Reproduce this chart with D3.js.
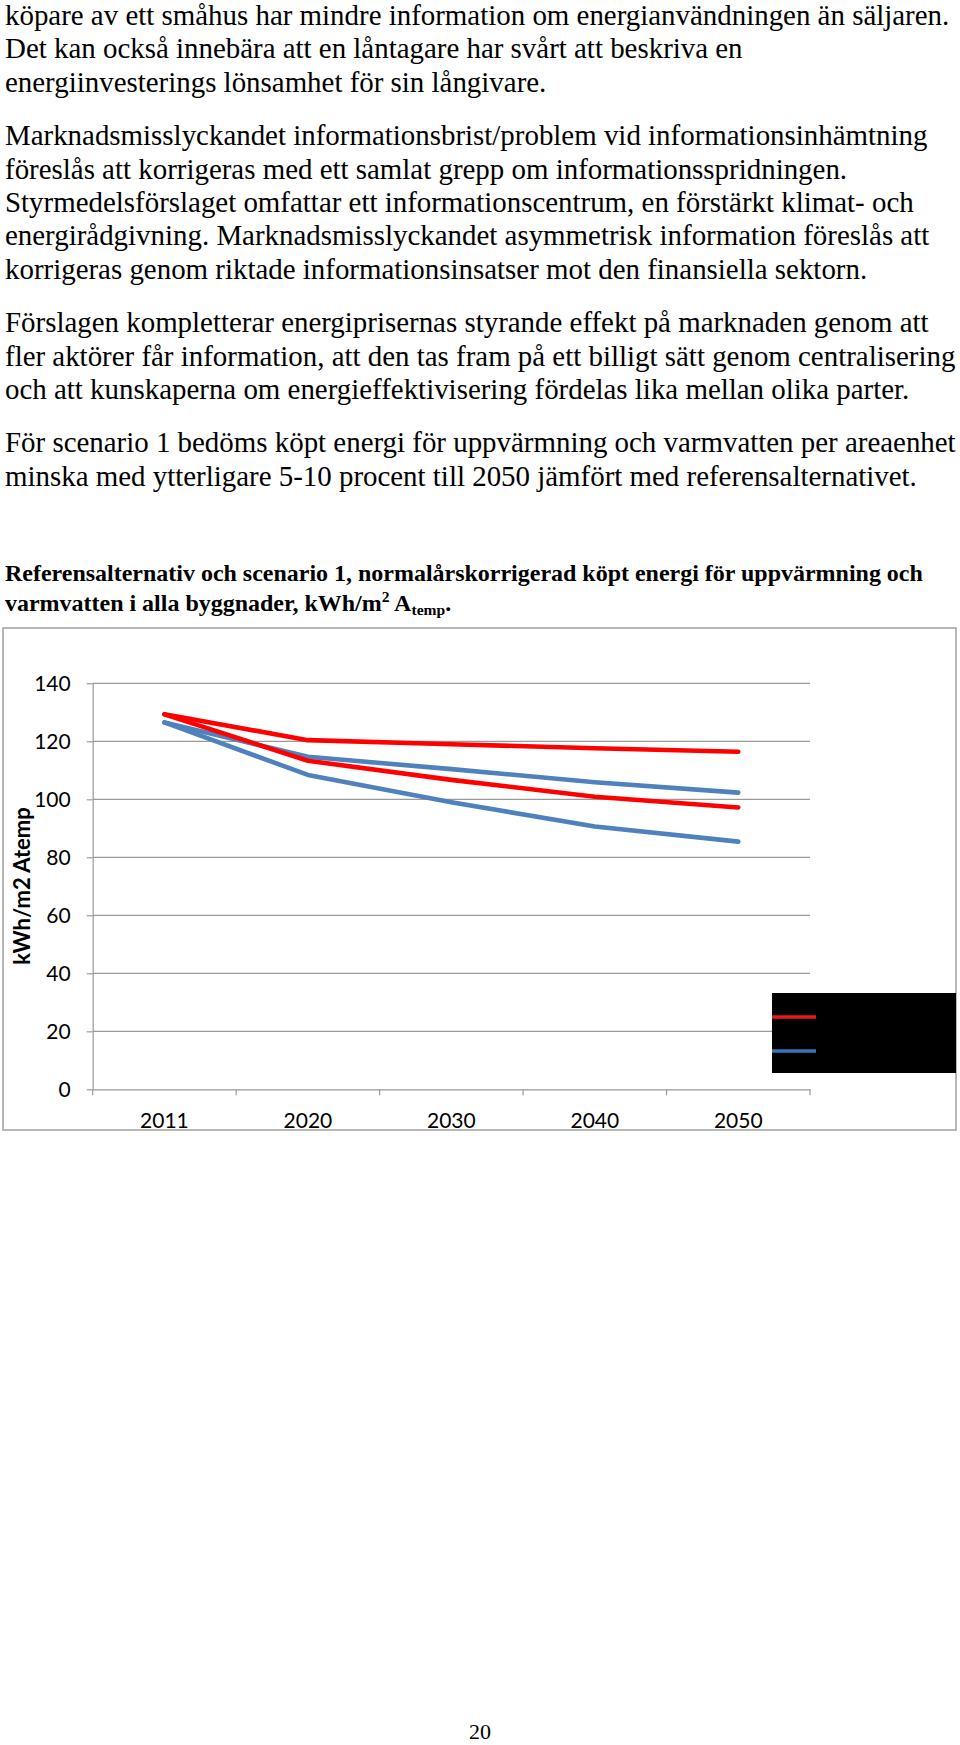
<!DOCTYPE html>
<html>
<head>
<meta charset="utf-8">
<script src="https://cdn.jsdelivr.net/npm/d3@7"></script>
<style>
  html, body { margin: 0; padding: 0; background: #fff; }
  svg { display: block; }
</style>
</head>
<body>
<svg id="page" width="960" height="1745"></svg>
<script>
// ---------- DATA ----------
const years = ["2011", "2020", "2030", "2040", "2050"];
const redUpper  = [129.3, 120.4, 119.0, 117.6, 116.4];
const redLower  = [129.3, 113.3, 106.7, 100.9, 97.2];
const blueUpper = [126.5, 114.7, 110.4, 105.9, 102.3];
const blueLower = [126.5, 108.4, 99.0, 90.6, 85.4];
const yTicks = [0, 20, 40, 60, 80, 100, 120, 140];
const yAxisTitle = "kWh/m2 Atemp";

const paragraphs = [
  ["köpare av ett småhus har mindre information om energianvändningen än säljaren.",
   "Det kan också innebära att en låntagare har svårt att beskriva en",
   "energiinvesterings lönsamhet för sin långivare."],
  ["Marknadsmisslyckandet informationsbrist/problem vid informationsinhämtning",
   "föreslås att korrigeras med ett samlat grepp om informationsspridningen.",
   "Styrmedelsförslaget omfattar ett informationscentrum, en förstärkt klimat- och",
   "energirådgivning. Marknadsmisslyckandet asymmetrisk information föreslås att",
   "korrigeras genom riktade informationsinsatser mot den finansiella sektorn."],
  ["Förslagen kompletterar energiprisernas styrande effekt på marknaden genom att",
   "fler aktörer får information, att den tas fram på ett billigt sätt genom centralisering",
   "och att kunskaperna om energieffektivisering fördelas lika mellan olika parter."],
  ["För scenario 1 bedöms köpt energi för uppvärmning och varmvatten per areaenhet",
   "minska med ytterligare 5-10 procent till 2050 jämfört med referensalternativet."]
];
const titleLine1 = "Referensalternativ och scenario 1, normalårskorrigerad köpt energi för uppvärmning och";
const titleLine2 = "varmvatten i alla byggnader, kWh/m";
const pageNumber = "20";

// ---------- LAYOUT ----------
const svg = d3.select("#page");
svg.append("rect").attr("width", 960).attr("height", 1745).attr("fill", "#fff");

const serif = "'Liberation Serif', 'Times New Roman', serif";
const sans = "Lato, 'Open Sans', sans-serif";

// body font size derived so that first line spans the measured width
const probe = svg.append("text").attr("font-family", serif).attr("font-size", 100).text(paragraphs[0][0]);
const w100 = probe.node().getComputedTextLength();
probe.remove();
const bodySize = 100 * 945 / w100;

const lineGap = 33.4, paraGap = 53.4;
let yPos = 25;
const bodyG = svg.append("g").attr("font-family", serif).attr("font-size", bodySize).attr("fill", "#000");
paragraphs.forEach((p, pi) => {
  if (pi > 0) yPos += paraGap - lineGap;
  p.forEach(line => {
    bodyG.append("text").attr("x", 5).attr("y", yPos).text(line);
    yPos += lineGap;
  });
});

// chart title
const probe2 = svg.append("text").attr("font-family", serif).attr("font-weight", "bold").attr("font-size", 100).text(titleLine1);
const wt = probe2.node().getComputedTextLength();
probe2.remove();
const titleSize = 100 * 918 / wt;
const titleG = svg.append("g").attr("font-family", serif).attr("font-weight", "bold").attr("font-size", titleSize);
titleG.append("text").attr("x", 5).attr("y", 581).text(titleLine1);
const t2 = titleG.append("text").attr("x", 5).attr("y", 611);
t2.append("tspan").text(titleLine2);
t2.append("tspan").attr("font-size", titleSize * 0.65).attr("dy", -9).text("2");
t2.append("tspan").attr("dy", 9).text(" A");
t2.append("tspan").attr("font-size", titleSize * 0.65).attr("dy", 4).text("temp");
t2.append("tspan").attr("dy", -4).text(".");

// chart frame
svg.append("rect").attr("x", 3).attr("y", 628).attr("width", 953).attr("height", 502)
  .attr("fill", "#fff").attr("stroke", "#a0a0a0").attr("stroke-width", 1.5);

const x = d3.scaleBand().domain(years).range([92.7, 810]).padding(0);
const y = d3.scaleLinear().domain([0, 140]).range([1089.3, 683.3]);
const grid = "#9a9a9a";

// gridlines
svg.append("g").selectAll("line").data(yTicks.filter(d => d > 0)).join("line")
  .attr("x1", x.range()[0]).attr("x2", x.range()[1])
  .attr("y1", d => y(d)).attr("y2", d => y(d))
  .attr("stroke", grid).attr("stroke-width", 1.2);

// y axis
const yAxis = svg.append("g").attr("transform", `translate(${x.range()[0]},0)`)
  .call(d3.axisLeft(y).tickValues(yTicks).tickSize(6).tickPadding(16).tickSizeOuter(0));
yAxis.select(".domain").attr("stroke", grid).attr("stroke-width", 1.2);
yAxis.selectAll(".tick line").attr("stroke", grid).attr("stroke-width", 1.2);
yAxis.selectAll(".tick text").attr("font-family", sans).attr("font-size", 21).attr("fill", "#000");

// x axis
const xAxis = svg.append("g").attr("transform", `translate(0,${y(0)})`)
  .call(d3.axisBottom(x).tickSize(0).tickPadding(24).tickSizeOuter(0));
xAxis.select(".domain").attr("stroke", grid).attr("stroke-width", 1.2);
xAxis.selectAll(".tick text").attr("font-family", sans).attr("font-size", 21).attr("fill", "#000");
// tick marks at category boundaries
const bounds = years.map(d => x(d)).concat([x(years[years.length - 1]) + x.bandwidth()]);
xAxis.append("g").selectAll("line").data(bounds).join("line")
  .attr("x1", d => d).attr("x2", d => d).attr("y1", 0).attr("y2", 6)
  .attr("stroke", grid).attr("stroke-width", 1.2);

// y axis title
svg.append("text")
  .attr("transform", "translate(30,886) rotate(-90)")
  .attr("text-anchor", "middle")
  .attr("font-family", sans).attr("font-weight", "bold").attr("font-size", 22)
  .text(yAxisTitle);

// series
const line = d3.line().x((d, i) => x(years[i]) + x.bandwidth() / 2).y(d => y(d));
const series = [
  { name: "scenario 1 (a)", values: blueUpper, color: "#4f81bd" },
  { name: "scenario 1 (b)", values: blueLower, color: "#4f81bd" },
  { name: "referens (a)", values: redUpper, color: "#ff0000" },
  { name: "referens (b)", values: redLower, color: "#ff0000" }
];
svg.append("g").selectAll("path").data(series).join("path")
  .attr("d", d => line(d.values))
  .attr("fill", "none").attr("stroke", d => d.color)
  .attr("stroke-width", 4.6).attr("stroke-linecap", "round").attr("stroke-linejoin", "round");

// legend (blacked-out box)
const lg = svg.append("g");
lg.append("rect").attr("x", 772).attr("y", 993).attr("width", 184).attr("height", 80).attr("fill", "#000");
lg.append("line").attr("x1", 772).attr("x2", 816).attr("y1", 1017).attr("y2", 1017)
  .attr("stroke", "#e8191c").attr("stroke-width", 3.4);
lg.append("line").attr("x1", 772).attr("x2", 816).attr("y1", 1051).attr("y2", 1051)
  .attr("stroke", "#3676b8").attr("stroke-width", 3.4);

// page number
svg.append("text").attr("x", 480).attr("y", 1739).attr("text-anchor", "middle")
  .attr("font-family", serif).attr("font-size", 22).text(pageNumber);
</script>
</body>
</html>
